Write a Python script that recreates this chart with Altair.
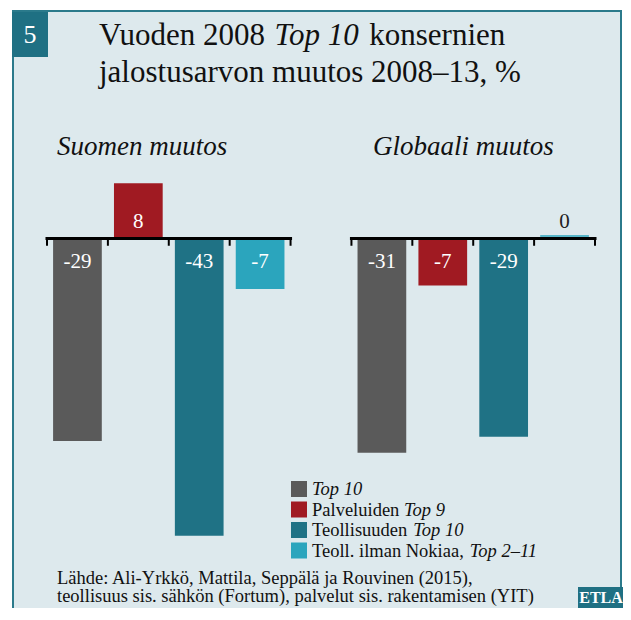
import altair as alt
import pandas as pd

SERIF = "Liberation Serif"

# ---- data ----
series = ["Top 10", "Palveluiden Top 9", "Teollisuuden Top 10", "Teoll. ilman Nokiaa, Top 2–11"]
series_colors = ["#5a5a5a", "#a01a22", "#1f7285", "#2ba5bd"]
legend_regular = ["", "Palveluiden", "Teollisuuden", "Teoll. ilman Nokiaa,"]
legend_italic = ["Top 10", "Top 9", "Top 10", "Top 2–11"]
panels = ["Suomen muutos", "Globaali muutos"]
fin_values = [-29.3, 8.0, -43.0, -7.3]
fin_labels = ["-29", "8", "-43", "-7"]
glob_values = [-31.0, -6.8, -28.7, 0.0]
glob_labels = ["-31", "-7", "-29", "0"]
title_line1 = ["Vuoden 2008", "Top 10", "konsernien"]
title_line2 = "jalostusarvon muutos 2008–13, %"
source_lines = ["Lähde: Ali-Yrkkö, Mattila, Seppälä ja Rouvinen (2015),",
                "teollisuus sis. sähkön (Fortum), palvelut sis. rakentamisen (YIT)"]

rows = []
for p, (vals, labs) in enumerate([(fin_values, fin_labels), (glob_values, glob_labels)]):
    for i, s in enumerate(series):
        rows.append(dict(panel=panels[p], series=s, value=vals[i], label=labs[i], slot=5 * p + i))
df = pd.DataFrame(rows)

axis_df = pd.DataFrame({"start": [5 * p for p in range(len(panels))],
                        "end": [5 * p + len(series) for p in range(len(panels))]})
tick_df = pd.DataFrame({"edge": [5 * p + k for p in range(len(panels)) for k in range(len(series) + 1)]})

xs = alt.Scale(domain=[0, 9], range=[39, 587])
ys = alt.Scale(domain=[-50, 10], range=[576, 161.4])
cs = alt.Scale(domain=series, range=series_colors)


def one():
    return alt.Chart(pd.DataFrame({"d": [0]}))


def box(x1, x2, y1, y2, **kw):
    return one().mark_rect(**kw).encode(x=alt.value(x1), x2=alt.value(x2),
                                        y=alt.value(y1), y2=alt.value(y2))


def txt(s, x, y, size, style="normal", weight="normal", color="#111", align="left"):
    return one().mark_text(text=s, font=SERIF, fontSize=size, fontStyle=style,
                           fontWeight=weight, color=color, align=align,
                           baseline="alphabetic").encode(x=alt.value(x), y=alt.value(y))


layers = []
# frame
layers.append(box(5, 613, 3, 700, fill="#dde9ed", stroke="#2b7a8b", strokeWidth=2))
# number box
layers.append(box(4, 40, 4, 49, fill="#1f7083"))
layers.append(txt("5", 22, 35, 26, color="white", align="center"))
# title
layers.append(txt(title_line1[0], 91, 37, 31))
layers.append(txt(title_line1[1], 266.6, 37, 31, style="italic"))
layers.append(txt(title_line1[2], 361.3, 37, 31))
layers.append(txt(title_line2, 91, 74, 31))
# panel subtitles
layers.append(txt(panels[0], 49, 147, 27, style="italic"))
layers.append(txt(panels[1], 365, 147, 27, style="italic"))

base = alt.Chart(df)
bars = base.transform_calculate(x1="datum.slot + 0.1", x2="datum.slot + 0.9", zero="0").mark_rect().encode(
    x=alt.X("x1:Q", scale=xs, axis=None),
    x2="x2:Q",
    y=alt.Y("value:Q", scale=ys, axis=None),
    y2="zero:Q",
    color=alt.Color("series:N", scale=cs, legend=None),
)
layers.append(bars)

zero_line = base.transform_filter("datum.value == 0").transform_calculate(
    x1="datum.slot + 0.1", x2="datum.slot + 0.9", zero="0").mark_rule(strokeWidth=1.5, yOffset=-2.5).encode(
    x=alt.X("x1:Q", scale=xs, axis=None),
    x2="x2:Q",
    y=alt.Y("zero:Q", scale=ys, axis=None),
    color=alt.Color("series:N", scale=cs, legend=None),
)
layers.append(zero_line)

axis_lines = alt.Chart(axis_df).transform_calculate(zero="0").mark_rule(
    strokeWidth=3, color="black", strokeCap="square").encode(
    x=alt.X("start:Q", scale=xs, axis=None),
    x2="end:Q",
    y=alt.Y("zero:Q", scale=ys, axis=None),
)
layers.append(axis_lines)

ticks = alt.Chart(tick_df).transform_calculate(zero="0", bottom="-1.05").mark_rule(
    strokeWidth=2, color="black").encode(
    x=alt.X("edge:Q", scale=xs, axis=None),
    y=alt.Y("zero:Q", scale=ys, axis=None),
    y2="bottom:Q",
)
layers.append(ticks)


def labels(flt, dy, color):
    return base.transform_filter(flt).transform_calculate(xc="datum.slot + 0.5", zero="0").mark_text(
        dy=dy, baseline="alphabetic", align="center", font=SERIF, fontSize=21, color=color).encode(
        x=alt.X("xc:Q", scale=xs, axis=None),
        y=alt.Y("zero:Q", scale=ys, axis=None),
        text="label:N",
    )


layers.append(labels("datum.value < 0", 29, "white"))
layers.append(labels("datum.value > 0", -11, "white"))
layers.append(labels("datum.value == 0", -11, "#222"))

# legend
italic_offsets = [0, 92, 101.2, 157.7]
for i in range(len(series)):
    top = 473 + 20.5 * i
    layers.append(box(283, 299, top, top + 16, fill=series_colors[i]))
    if legend_regular[i]:
        layers.append(txt(legend_regular[i], 304, top + 14, 18.5))
    layers.append(txt(legend_italic[i], 304 + italic_offsets[i], top + 14, 18.5, style="italic"))

# source
layers.append(txt(source_lines[0], 49, 576, 18.5))
layers.append(txt(source_lines[1], 49, 594, 18.5))
# ETLA logo
layers.append(box(570, 640, 579, 640, fill="#1f7083"))
layers.append(txt("ETLA", 593, 595, 16, weight="bold", color="white", align="center"))

chart = alt.layer(*layers).properties(
    width=615, height=600,
    autosize=alt.AutoSizeParams(type="none"),
    padding=0,
    background="white",
).configure_view(stroke=None)

chart.save("out.html", embed_options={"renderer": "svg", "actions": False})
